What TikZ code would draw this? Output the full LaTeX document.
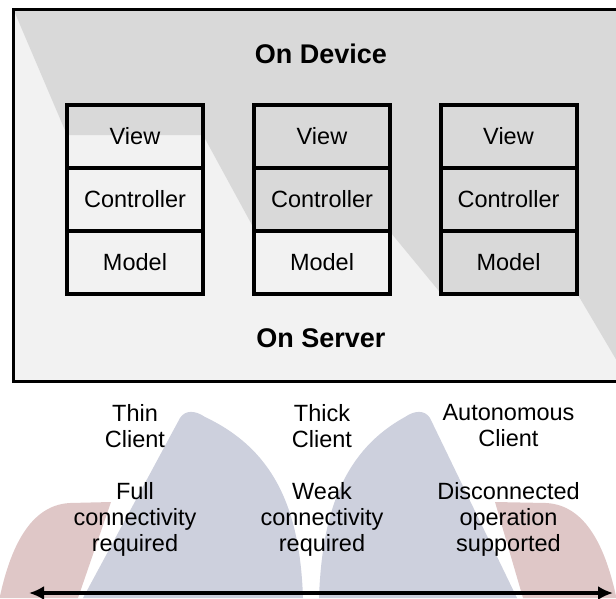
\documentclass[tikz,border=0pt]{standalone}
\usepackage{fontspec}
\setmainfont{Liberation Sans}
\usetikzlibrary{arrows.meta}
\definecolor{devgrey}{HTML}{D9D9D9}
\definecolor{srvgrey}{HTML}{F2F2F2}
\definecolor{wmblue}{RGB}{205,208,221}
\definecolor{wmred}{RGB}{223,199,199}
\begin{document}
\begin{tikzpicture}[x=1pt,y=-1pt,
  cell/.style={draw, line width=4pt, minimum width=136pt, minimum height=63pt, inner sep=0pt, font=\fontsize{23.5}{26}\selectfont},
  titletext/.style={font=\fontsize{27}{30}\selectfont\bfseries, inner sep=0pt},
  lbl/.style={align=center, anchor=north, font=\fontsize{23.5}{26}\selectfont, inner sep=0pt},
  frame/.style={line width=3pt},
  axis/.style={line width=4pt, {Latex[length=15pt,width=14pt]}-{Latex[length=15pt,width=14pt]}}]
\useasboundingbox (0,0) rectangle (616,598);
\clip (0,0) rectangle (616,598);
% background regions
\fill[srvgrey] (13.5,9.5) rectangle (640,381);
\fill[devgrey] (13.5,9.5) -- (640,9.5) -- (640,400) -- (578,295) -- (441,293.5) -- (389,230.5) -- (255,230.5) -- (203,135) -- (67,135) -- cycle;
\draw[frame] (13.5,9.5) rectangle (640,381);
% watermark shapes
\fill[wmred] (0,596) .. controls (8,560) and (25,505) .. (70,503) -- (111,502) -- (78,598) -- (0,598) -- cycle;
\fill[wmred] (616,596) .. controls (608,560) and (591,505) .. (546,503) -- (495,502) -- (523,598) -- (616,598) -- cycle;
\fill[wmblue] (83,598) -- (180,418) .. controls (185,410) and (195,410) .. (205,417) .. controls (275,450) and (300,510) .. (303,598) -- cycle;
\fill[wmblue] (517,598) -- (430,418) .. controls (425,410) and (415,410) .. (405,417) .. controls (345,450) and (322,510) .. (319,598) -- cycle;
% titles
\node[titletext] (dev) at (321,54) {On Device};
\node[titletext] (srv) at (321,338) {On Server};
% columns
\node[cell] (v1) at (135,136) {View};
\node[cell] (c1) at (135,199) {Controller};
\node[cell] (m1) at (135,262) {Model};
\node[cell] (v2) at (322,136) {View};
\node[cell] (c2) at (322,199) {Controller};
\node[cell] (m2) at (322,262) {Model};
\node[cell] (v3) at (508.5,136) {View};
\node[cell] (c3) at (508.5,199) {Controller};
\node[cell] (m3) at (508.5,262) {Model};
% labels
\node[lbl] (t1) at (135,404) {Thin\\Client};
\node[lbl] (t2) at (322,404) {Thick\\Client};
\node[lbl] (t3) at (508.5,404) {Autonomous\\Client};
\node[lbl] (d1) at (135,482) {Full\\connectivity\\required};
\node[lbl] (d2) at (322,482) {Weak\\connectivity\\required};
\node[lbl] (d3) at (508.5,482) {Disconnected\\operation\\supported};
% axis
\coordinate (aL) at (29,593);
\coordinate (aR) at (613,593);
\draw[axis] (aL) -- (aR);
\end{tikzpicture}
\end{document}
